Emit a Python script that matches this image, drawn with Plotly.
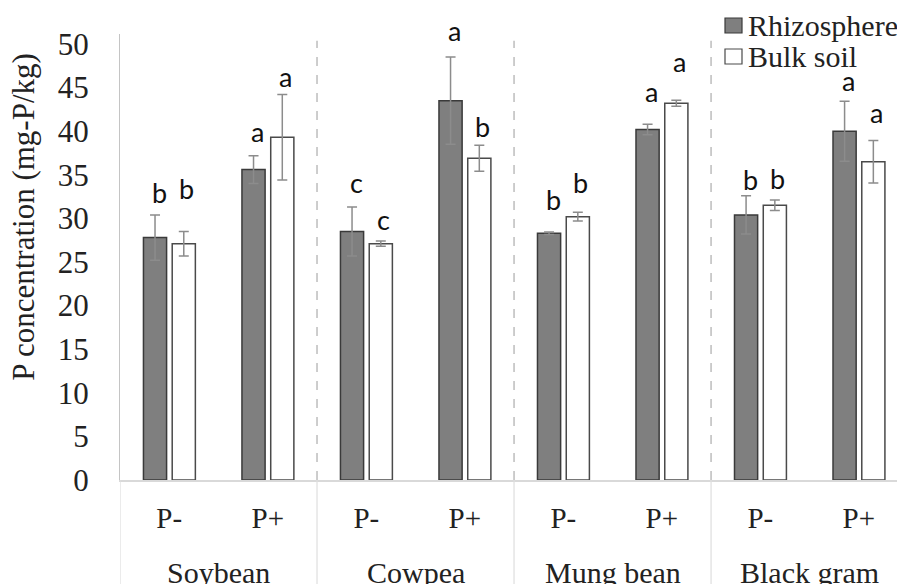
import plotly.graph_objects as go

# ---------------- data ----------------
crops = ["Soybean", "Cowpea", "Mung bean", "Black gram"]
treatments = ["P-", "P+"]
tick_labels = ["P-", "P+", "P-", "P+", "P-", "P+", "P-", "P+"]

rhizo = [27.8, 35.6, 28.5, 43.5, 28.3, 40.2, 30.4, 40.0]
rhizo_err = [2.6, 1.6, 2.8, 5.0, 0.15, 0.6, 2.2, 3.45]
bulk = [27.1, 39.3, 27.1, 36.9, 30.2, 43.2, 31.5, 36.5]
bulk_err = [1.4, 4.9, 0.3, 1.5, 0.5, 0.35, 0.6, 2.45]

rhizo_letters = ["b", "a", "c", "a", "b", "a", "b", "a"]
bulk_letters = ["b", "a", "c", "b", "b", "a", "b", "a"]

y_ticks = [0, 5, 10, 15, 20, 25, 30, 35, 40, 45, 50]

# ---------------- style / layout params ----------------
SERIF = "Liberation Serif"
SANS = "Lato"
BAR_W = 0.235
RHIZO_OFF = -0.262
BULK_OFF = 0.03
# vertical gap (px) between error-bar cap and letter, as placed in the original
rhizo_gap = [10.7, 13, 13.3, 15, 21, 21.6, 5, 9.6]
bulk_gap = [31.7, 6.7, 10.3, 7, 18.3, 27.7, 10.6, 16]

xs = list(range(len(tick_labels)))

fig = go.Figure()
fig.add_trace(go.Bar(
    x=xs, y=rhizo, name="Rhizosphere", width=BAR_W, offset=RHIZO_OFF,
    marker=dict(color="#7f7f7f", line=dict(color="#3a3a3a", width=1.5)),
    error_y=dict(type="data", array=rhizo_err, color="#8c8c8c", thickness=1.5, width=5),
    showlegend=False,
))
fig.add_trace(go.Bar(
    x=xs, y=bulk, name="Bulk soil", width=BAR_W, offset=BULK_OFF,
    marker=dict(color="#ffffff", line=dict(color="#4a4a4a", width=1.5)),
    error_y=dict(type="data", array=bulk_err, color="#8c8c8c", thickness=1.5, width=5),
    showlegend=False,
))

annotations = []
# significance letters
for i in xs:
    annotations.append(dict(
        x=i + RHIZO_OFF + BAR_W / 2, y=rhizo[i] + rhizo_err[i], xref="x", yref="y",
        text=rhizo_letters[i], showarrow=False, yanchor="bottom", xanchor="center",
        xshift=4, yshift=rhizo_gap[i] - 7,
        font=dict(family=SANS, size=27, color="#111111")))
    annotations.append(dict(
        x=i + BULK_OFF + BAR_W / 2, y=bulk[i] + bulk_err[i], xref="x", yref="y",
        text=bulk_letters[i], showarrow=False, yanchor="bottom", xanchor="center",
        xshift=3, yshift=bulk_gap[i] - 7,
        font=dict(family=SANS, size=27, color="#111111")))

# crop group labels
for g, crop in enumerate(crops):
    annotations.append(dict(
        x=2 * g + 0.5, y=0, xref="x", yref="paper", text=crop, showarrow=False,
        yanchor="top", xanchor="center", yshift=-74,
        font=dict(family=SERIF, size=30, color="#222222")))

# y axis title
annotations.append(dict(
    x=0, y=0.59, xref="paper", yref="paper", text="P concentration (mg-P/kg)",
    textangle=-90, showarrow=False, xanchor="center", yanchor="middle", xshift=-96,
    font=dict(family=SERIF, size=31, color="#222222")))

# legend (custom)
legend_items = [("Rhizosphere", "#7f7f7f", "#3a3a3a"), ("Bulk soil", "#ffffff", "#4a4a4a")]
shapes = []
for k, (name, fill, line) in enumerate(legend_items):
    top = 16 - 31 * k
    shapes.append(dict(type="rect", xref="paper", yref="paper", xsizemode="pixel",
                       ysizemode="pixel", xanchor=1, yanchor=1,
                       x0=-188, x1=-171, y0=top, y1=top - 15,
                       fillcolor=fill, line=dict(color=line, width=1.2)))
    annotations.append(dict(
        x=1, y=1, xref="paper", yref="paper", text=name, showarrow=False,
        xanchor="left", yanchor="middle", xshift=-167, yshift=top - 7,
        font=dict(family=SERIF, size=30, color="#222222")))

# group dividers
for b in [1.5, 3.5, 5.5]:
    shapes.append(dict(type="line", xref="x", yref="paper", x0=b, x1=b, y0=0, y1=0.985,
                       line=dict(color="#bdbdbd", width=1.5, dash="dash")))
for b in [-0.5, 1.5, 3.5, 5.5]:
    shapes.append(dict(type="line", xref="x", yref="paper", x0=b, x1=b, y0=0, y1=-0.3,
                       line=dict(color="#dedede", width=1.2)))

fig.update_layout(
    width=905, height=584,
    margin=dict(l=112, r=0, t=26, b=112),
    paper_bgcolor="white", plot_bgcolor="white",
    barmode="group",
    showlegend=False,
    annotations=annotations,
    shapes=shapes,
    xaxis=dict(
        range=[-0.5, 7.55], tickmode="array", tickvals=xs, ticktext=tick_labels,
        showgrid=False, zeroline=False, showline=True, linecolor="#d9d9d9", linewidth=2,
        ticks="", ticklabelstandoff=11,
        tickfont=dict(family=SERIF, size=29, color="#222222"),
    ),
    yaxis=dict(
        range=[0, 51.15], tickmode="array", tickvals=y_ticks,
        showgrid=False, zeroline=False, showline=True, linecolor="#c4c4c4", linewidth=1,
        ticks="", ticklabelstandoff=24,
        tickfont=dict(family=SERIF, size=31, color="#222222"),
    ),
)

fig.write_html("out.html")
